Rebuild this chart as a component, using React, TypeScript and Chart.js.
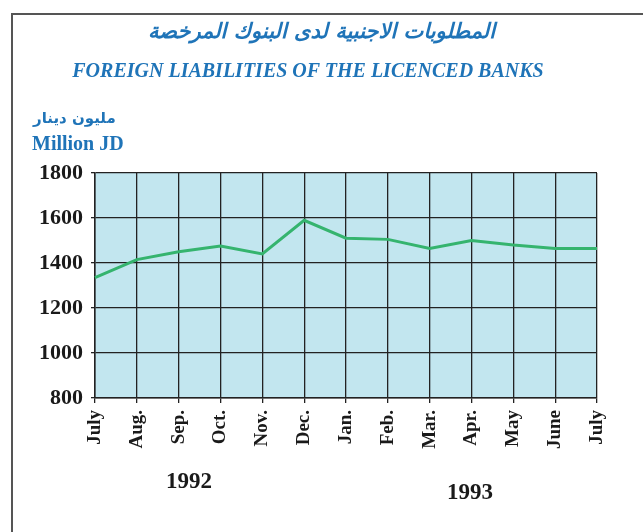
import React, { useEffect, useRef } from "react";
import { Chart, registerables } from "chart.js";

Chart.register(...registerables);

const months = ["July", "Aug.", "Sep.", "Oct.", "Nov.", "Dec.", "Jan.", "Feb.", "Mar.", "Apr.", "May", "June", "July"];
const liabilities = [1335, 1415, 1450, 1475, 1440, 1590, 1510, 1505, 1465, 1500, 1480, 1465, 1465];
const yTicks = [800, 1000, 1200, 1400, 1600, 1800];
const titleAr = "المطلوبات الاجنبية لدى البنوك المرخصة";
const titleEn = "FOREIGN LIABILITIES OF THE LICENCED BANKS";
const unitAr = "مليون دينار";
const unitEn = "Million JD";
const years = ["1992", "1993"];

const bgPlugin = {
  id: "plotBg",
  beforeDraw(chart: any) {
    const { ctx, chartArea } = chart;
    if (!chartArea) return;
    ctx.save();
    ctx.fillStyle = "#c2e6ef";
    ctx.fillRect(chartArea.left, chartArea.top, chartArea.right - chartArea.left, chartArea.bottom - chartArea.top);
    ctx.restore();
  },
};

export default function App() {
  const ref = useRef<HTMLCanvasElement>(null);
  useEffect(() => {
    if (!ref.current) return;
    const chart = new Chart(ref.current, {
      type: "line",
      data: {
        labels: months,
        datasets: [
          {
            data: liabilities,
            borderColor: "#35b46e",
            borderWidth: 3,
            pointRadius: 0,
            tension: 0,
            fill: false,
          },
        ],
      },
      options: {
        animation: false,
        responsive: false,
        maintainAspectRatio: false,
        layout: { padding: { left: 0, right: 46, top: 173, bottom: 0 } },
        plugins: { legend: { display: false }, tooltip: { enabled: false }, title: { display: false } },
        scales: {
          x: {
            offset: false,
            afterFit: (s: any) => {
              s.height = 134;
            },
            grid: { color: "#222", lineWidth: 1.3, drawTicks: true, tickLength: 5, tickColor: "#222" },
            border: { color: "#222", width: 1.5 },
            ticks: {
              color: "#1a1a1a",
              font: { family: "Liberation Serif", size: 19, weight: "bold" },
              maxRotation: 90,
              minRotation: 90,
              autoSkip: false,
              padding: 7,
            },
          },
          y: {
            min: 800,
            max: 1800,
            afterFit: (s: any) => {
              s.width = 95;
            },
            afterBuildTicks: (s: any) => {
              s.ticks = yTicks.map((v) => ({ value: v }));
            },
            grid: { color: "#222", lineWidth: 1.3, drawTicks: true, tickLength: 4, tickColor: "#222" },
            border: { color: "#222", width: 1.5 },
            ticks: {
              color: "#1a1a1a",
              font: { family: "Liberation Serif", size: 22, weight: "bold" },
              padding: 8,
              callback: (v: any) => String(v),
            },
          },
        },
      },
      plugins: [bgPlugin],
    });
    return () => chart.destroy();
  }, []);

  const abs = (o: React.CSSProperties): React.CSSProperties => ({ position: "absolute", whiteSpace: "nowrap", ...o });

  return (
    <div style={{ position: "absolute", left: 0, top: 0, width: 643, height: 532, background: "#fff", overflow: "hidden" }}>
      <div style={abs({ left: 11, top: 13, width: 640, height: 560, borderLeft: "2px solid #555", borderTop: "2px solid #555", borderRight: "1px solid #bbb" })} />
      <canvas ref={ref} width={643} height={532} style={{ position: "absolute", left: 0, top: 0 }} />
      <div style={abs({ left: 0, width: 643, top: 19, textAlign: "center", fontFamily: "DejaVu Sans", fontWeight: "bold", fontStyle: "italic", fontSize: 21, color: "#1f74b8", direction: "rtl" })}>
        {titleAr}
      </div>
      <div style={abs({ left: 0, width: 616, top: 59, textAlign: "center", fontFamily: "Liberation Serif", fontWeight: "bold", fontStyle: "italic", fontSize: 20, color: "#1f74b8" })}>
        {titleEn}
      </div>
      <div style={abs({ left: 33, top: 109, fontFamily: "DejaVu Sans", fontWeight: "bold", fontSize: 15, color: "#1f74b8", direction: "rtl" })}>
        {unitAr}
      </div>
      <div style={abs({ left: 32, top: 132, fontFamily: "Liberation Serif", fontWeight: "bold", fontSize: 20, color: "#1f74b8" })}>
        {unitEn}
      </div>
      <div style={abs({ left: 166, top: 468, fontFamily: "Liberation Serif", fontWeight: "bold", fontSize: 23, color: "#1a1a1a" })}>
        {years[0]}
      </div>
      <div style={abs({ left: 447, top: 479, fontFamily: "Liberation Serif", fontWeight: "bold", fontSize: 23, color: "#1a1a1a" })}>
        {years[1]}
      </div>
    </div>
  );
}
